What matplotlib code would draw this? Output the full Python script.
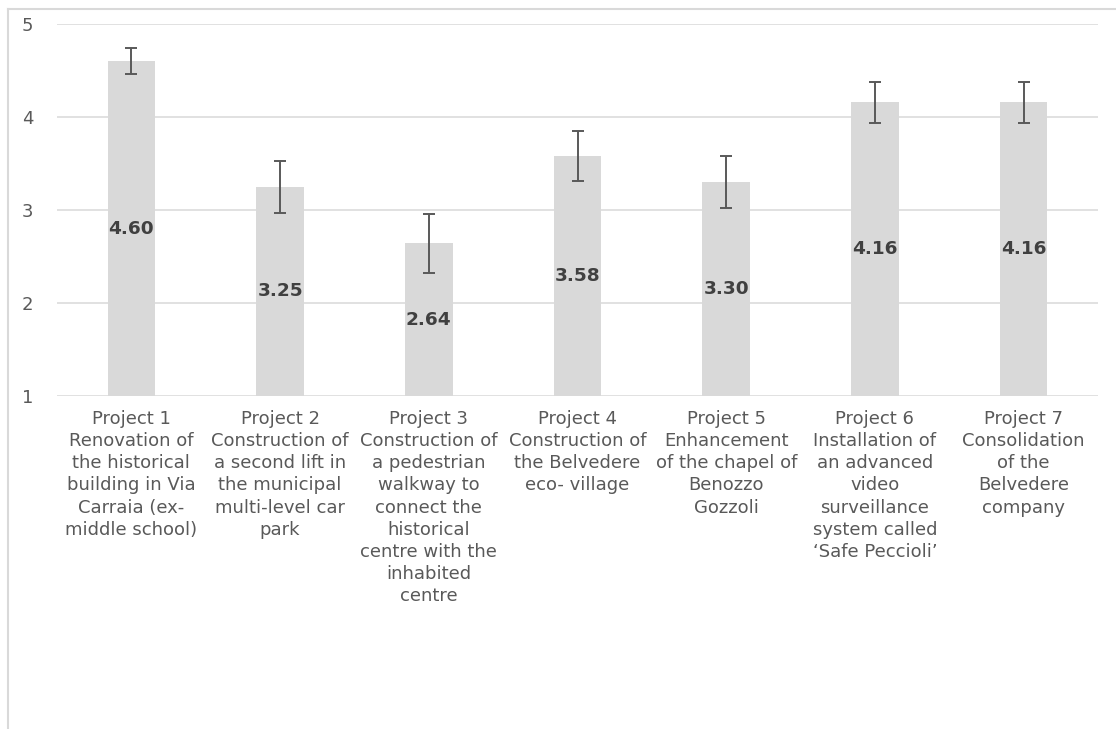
import matplotlib
matplotlib.use("Agg")
import matplotlib.pyplot as plt
from matplotlib.lines import Line2D

categories = [
    "Project 1\nRenovation of\nthe historical\nbuilding in Via\nCarraia (ex-\nmiddle school)",
    "Project 2\nConstruction of\na second lift in\nthe municipal\nmulti-level car\npark",
    "Project 3\nConstruction of\na pedestrian\nwalkway to\nconnect the\nhistorical\ncentre with the\ninhabited\ncentre",
    "Project 4\nConstruction of\nthe Belvedere\neco- village",
    "Project 5\nEnhancement\nof the chapel of\nBenozzo\nGozzoli",
    "Project 6\nInstallation of\nan advanced\nvideo\nsurveillance\nsystem called\n\u2018Safe Peccioli\u2019",
    "Project 7\nConsolidation\nof the\nBelvedere\ncompany",
]
values = [4.60, 3.25, 2.64, 3.58, 3.30, 4.16, 4.16]
errors = [0.14, 0.28, 0.32, 0.27, 0.28, 0.22, 0.22]
yticks = [1, 2, 3, 4, 5]

plt.rcParams['font.family'] = ['DejaVu Sans']
fig = plt.figure(figsize=(11.16, 7.29), dpi=100)
ax = fig.add_axes([57/1116, 1-396/729, (1098-57)/1116, (396-24)/729])

x = list(range(len(values)))
heights = [v - 1 for v in values]
ax.bar(x, heights, bottom=1, width=0.32, color="#d9d9d9", zorder=2)
ax.errorbar(x, values, yerr=errors, fmt="none", ecolor="#595959",
            elinewidth=1.4, capsize=4.5, capthick=1.4, zorder=3)
for xi, v in zip(x, values):
    ax.text(xi, (1 + v) / 2, f"{v:.2f}", ha="center", va="center",
            fontsize=13.3, fontweight="bold", color="#404040", zorder=4)

ax.set_ylim(1, 5)
ax.set_xlim(-0.5, len(values) - 0.5)
ax.set_yticks(yticks)
ax.set_yticklabels([str(t) for t in yticks], fontsize=13, color="#595959")
ax.set_xticks(x)
ax.set_xticklabels(categories, fontsize=13, color="#595959", linespacing=1.3,
                   va="top", ha="center")
ax.tick_params(axis="both", length=0)
ax.tick_params(axis="y", pad=17)
ax.tick_params(axis="x", pad=10)
ax.grid(axis="y", color="#d9d9d9", linewidth=1.1, zorder=0)
ax.set_axisbelow(True)
for s in ax.spines.values():
    s.set_visible(False)

# chart border (cropped)
fig.add_artist(Line2D([8/1116, 8/1116], [0, 1-9/729], transform=fig.transFigure,
                      color="#d9d9d9", linewidth=1.5))
fig.add_artist(Line2D([8/1116, 1], [1-9/729, 1-9/729], transform=fig.transFigure,
                      color="#d9d9d9", linewidth=1.5))

fig.savefig("out.png", dpi=100)
